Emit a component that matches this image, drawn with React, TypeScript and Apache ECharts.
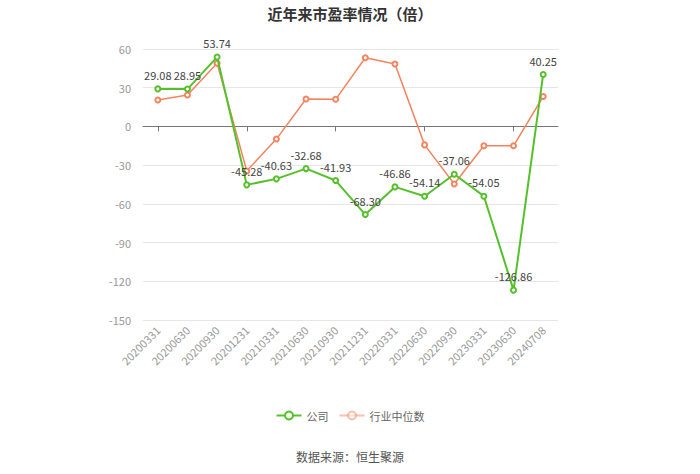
import React, { useEffect, useRef } from "react";
import * as echarts from "echarts";

const categories = ["20200331","20200630","20200930","20201231","20210331","20210630","20210930","20211231","20220331","20220630","20220930","20230331","20230630","20240708"];
const companyPE = [29.08, 28.95, 53.74, -45.28, -40.63, -32.68, -41.93, -68.30, -46.86, -54.14, -37.06, -54.05, -126.86, 40.25];
const industryPE = [20.5, 24.4, 49.0, -34.5, -9.8, 21.2, 21.0, 53.2, 48.4, -14.3, -44.6, -15.0, -15.0, 23.2];
const yTicks = { min: -150, max: 60, interval: 30 };

export default function App() {
  const ref = useRef<HTMLDivElement>(null);
  useEffect(() => {
    const chart = echarts.init(ref.current!, null, { renderer: "svg" });
    const font = "'Microsoft YaHei', 'Noto Sans CJK SC', 'Noto Sans', sans-serif";
    chart.setOption({
      animation: false,
      textStyle: { fontFamily: font },
      title: {
        text: "近年来市盈率情况（倍）",
        left: "center",
        top: 1,
        textStyle: { fontSize: 15, fontWeight: "bold", color: "#333", fontFamily: font },
      },
      legend: {
        bottom: 48,
        left: "center",
        itemWidth: 25,
        itemHeight: 10,
        itemGap: 10,
        textStyle: { fontSize: 11, color: "#666" },
        data: [
          { name: "公司" },
          { name: "行业中位数", itemStyle: { opacity: 0.5 }, lineStyle: { opacity: 0.5 } },
        ],
      },
      graphic: [
        {
          type: "text",
          left: "center",
          top: 450,
          style: { text: "数据来源：恒生聚源", fontSize: 12, fill: "#555", fontFamily: font },
        },
      ],
      grid: { left: 143, right: 142, top: 49, bottom: 154 },
      xAxis: [
        {
          type: "category",
          data: categories,
          boundaryGap: true,
          position: "bottom",
          axisLine: { show: false, onZero: false },
          axisTick: { show: false },
          axisLabel: { rotate: 45, fontSize: 11, color: "#999", margin: 8 },
        },
        {
          type: "category",
          data: categories,
          boundaryGap: true,
          position: "bottom",
          axisLine: { show: true, onZero: true, lineStyle: { color: "#777" } },
          axisTick: { show: true, alignWithLabel: true, length: 5, lineStyle: { color: "#777" } },
          axisLabel: { show: false },
        },
      ],
      yAxis: {
        type: "value",
        min: yTicks.min,
        max: yTicks.max,
        interval: yTicks.interval,
        axisLine: { show: false },
        axisTick: { show: false },
        axisLabel: { fontSize: 11, color: "#999", margin: 12 },
        splitLine: { lineStyle: { color: "#e6e6e6" } },
      },
      series: [
        {
          name: "公司",
          type: "line",
          data: companyPE,
          xAxisIndex: 0,
          symbol: "emptyCircle",
          symbolSize: 5,
          z: 3,
          lineStyle: { color: "#55c12a", width: 2 },
          itemStyle: { color: "#55c12a" },
          label: {
            show: true,
            position: "top",
            fontSize: 11,
            color: "#444",
            formatter: (p: any) => p.value.toFixed(2),
          },
        },
        {
          name: "行业中位数",
          type: "line",
          data: industryPE,
          xAxisIndex: 0,
          symbol: "emptyCircle",
          symbolSize: 5,
          z: 2,
          lineStyle: { color: "#f4845f", width: 1.5 },
          itemStyle: { color: "#f4845f" },
        },
      ],
    });
    return () => chart.dispose();
  }, []);
  return <div ref={ref} style={{ width: 700, height: 474, position: "absolute", left: 0, top: 0 }} />;
}
